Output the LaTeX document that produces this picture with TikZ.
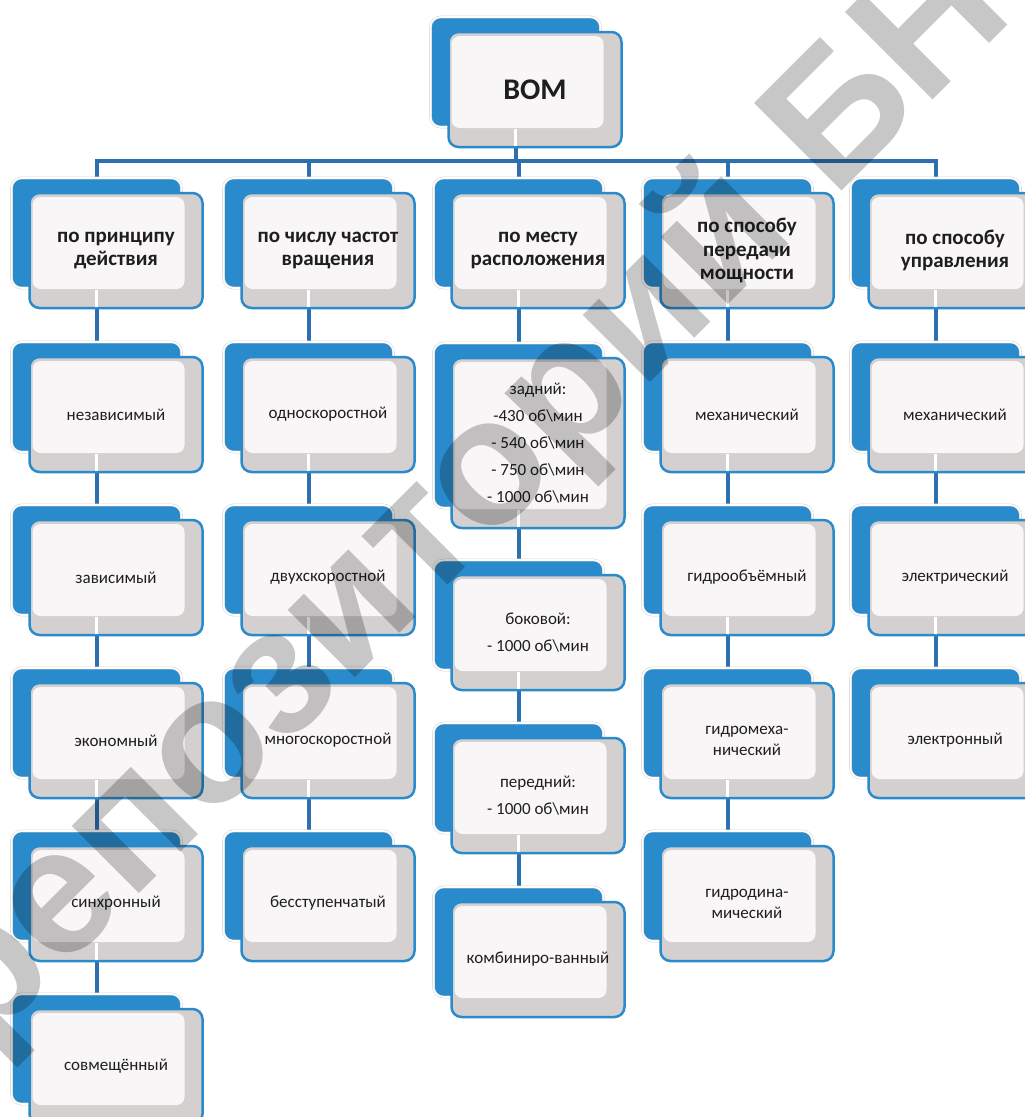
\documentclass[tikz,border=0pt]{standalone}
\usepackage{fontspec}
\setmainfont{Carlito}
\newfontfamily\wmfont{Liberation Sans}
\usetikzlibrary{calc,backgrounds}

\definecolor{blu}{RGB}{42,139,204}
\definecolor{connc}{RGB}{44,112,176}
\definecolor{shd}{RGB}{211,208,207}
\definecolor{frontc}{RGB}{248,246,247}
\definecolor{txt}{RGB}{30,30,30}

\newlength{\wmw}

\tikzset{
  backbox/.style={fill=blu, draw=gray!35, double=white, double distance=1.6pt,
    line width=0.5pt, rounded corners=10pt, minimum width=170pt, inner sep=0pt},
  ombase/.style={fill=shd, draw=blu, line width=2.5pt, rounded corners=10pt,
    minimum width=173pt, inner sep=0pt, align=center, text=txt,
    path picture={\fill[frontc, rounded corners=8pt]
      ([xshift=3pt,yshift=-4pt]path picture bounding box.north west) rectangle
      ([xshift=-18pt,yshift=19pt]path picture bounding box.south east);}},
  rootbox/.style={ombase, font=\fontsize{30}{36}\selectfont\bfseries},
  hdr/.style={ombase, font=\fontsize{21}{23.5}\selectfont\bfseries},
  item/.style={ombase, font=\fontsize{17}{27}\selectfont},
  itemtight/.style={ombase, font=\fontsize{17}{21}\selectfont},
  conn/.style={connc, line width=4pt},
  strip/.style={white, line width=3pt},
  wmark/.style={font=\wmfont\bfseries\fontsize{180}{180}\selectfont, text=black,
    text opacity=0.22, rotate=45, anchor=base west, inner sep=0pt}
}

% box: style, name, centre x, top y, height, text
\newcommand{\ombox}[6][item]{%
  \node[backbox, minimum height={#5-5}] (#2-b) at (#3-19.5, {#4-15+(#5-5)/2}) {};
  \node[#1, minimum height={#5}] (#2) at (#3, {#4+#5/2}) {#6};
}

\begin{document}
\settowidth{\wmw}{\wmfont\bfseries\fontsize{180}{180}\selectfont репозиторий\ }%
\begin{tikzpicture}[x=1pt,y=-1pt]
  \useasboundingbox (0,0) rectangle (1025,1117);

  \ombox[rootbox]{vom}{535}{32}{115}{ВОМ}

  \ombox[hdr]{h1}{116}{193}{115}{по принципу\\действия}
  \ombox[hdr]{h2}{328}{193}{115}{по числу частот\\вращения}
  \ombox[hdr]{h3}{538}{193}{115}{по месту\\расположения}
  \ombox[hdr]{h4}{747}{193}{115}{по способу\\передачи\\мощности}
  \ombox[hdr]{h5}{955}{193}{115}{по способу\\управления}

  \ombox{a1}{116}{357}{115}{независимый}
  \ombox{a2}{116}{520}{115}{зависимый}
  \ombox{a3}{116}{683}{115}{экономный}
  \ombox{a4}{116}{846}{115}{синхронный}
  \ombox{a5}{116}{1009}{115}{совмещённый}

  \ombox{b1}{328}{357}{115}{односкоростной}
  \ombox{b2}{328}{520}{115}{двухскоростной}
  \ombox{b3}{328}{683}{115}{многоскоростной}
  \ombox{b4}{328}{846}{115}{бесступенчатый}

  \ombox{c1}{538}{358}{170}{задний:\\-430 об\textbackslash мин\\- 540 об\textbackslash мин\\- 750 об\textbackslash мин\\- 1000 об\textbackslash мин}
  \ombox{c2}{538}{575}{115}{боковой:\\- 1000 об\textbackslash мин}
  \ombox{c3}{538}{738}{115}{передний:\\- 1000 об\textbackslash мин}
  \ombox{c4}{538}{902}{115}{комбиниро-ванный}

  \ombox{d1}{747}{357}{115}{механический}
  \ombox{d2}{747}{520}{115}{гидрообъёмный}
  \ombox[itemtight]{d3}{747}{683}{115}{гидромеха-\\нический}
  \ombox[itemtight]{d4}{747}{846}{115}{гидродина-\\мический}

  \ombox{e1}{955}{357}{115}{механический}
  \ombox{e2}{955}{520}{115}{электрический}
  \ombox{e3}{955}{683}{115}{электронный}

  \coordinate (bus) at (535,161);
  \begin{scope}[on background layer]
    \foreach \h in {h1,h2,h3,h4,h5}
      \draw[conn] (vom-b.center) -- (vom-b.center |- bus) -| (\h-b.center);
    \foreach \p/\c in {h1/a1,a1/a2,a2/a3,a3/a4,a4/a5,
                       h2/b1,b1/b2,b2/b3,b3/b4,
                       h3/c1,c1/c2,c2/c3,c3/c4,
                       h4/d1,d1/d2,d2/d3,d3/d4,
                       h5/e1,e1/e2,e2/e3}
      \draw[conn] (\p-b.center) -- (\c-b.center);
  \end{scope}

  % light strip where the line crosses the grey band
  \foreach \p in {vom,h1,h2,h3,h4,h5,a1,a2,a3,a4,b1,b2,b3,c1,c2,c3,d1,d2,d3,e1,e2}
    \draw[strip] ($(\p.south -| \p-b.center)+(0,-2)$) -- ++(0,-17);

  \coordinate (wmB) at (833,200);
  \node[wmark] (wm) at ($(wmB)+(225:\wmw)$) {репозиторий БНТУ};
\end{tikzpicture}
\end{document}
